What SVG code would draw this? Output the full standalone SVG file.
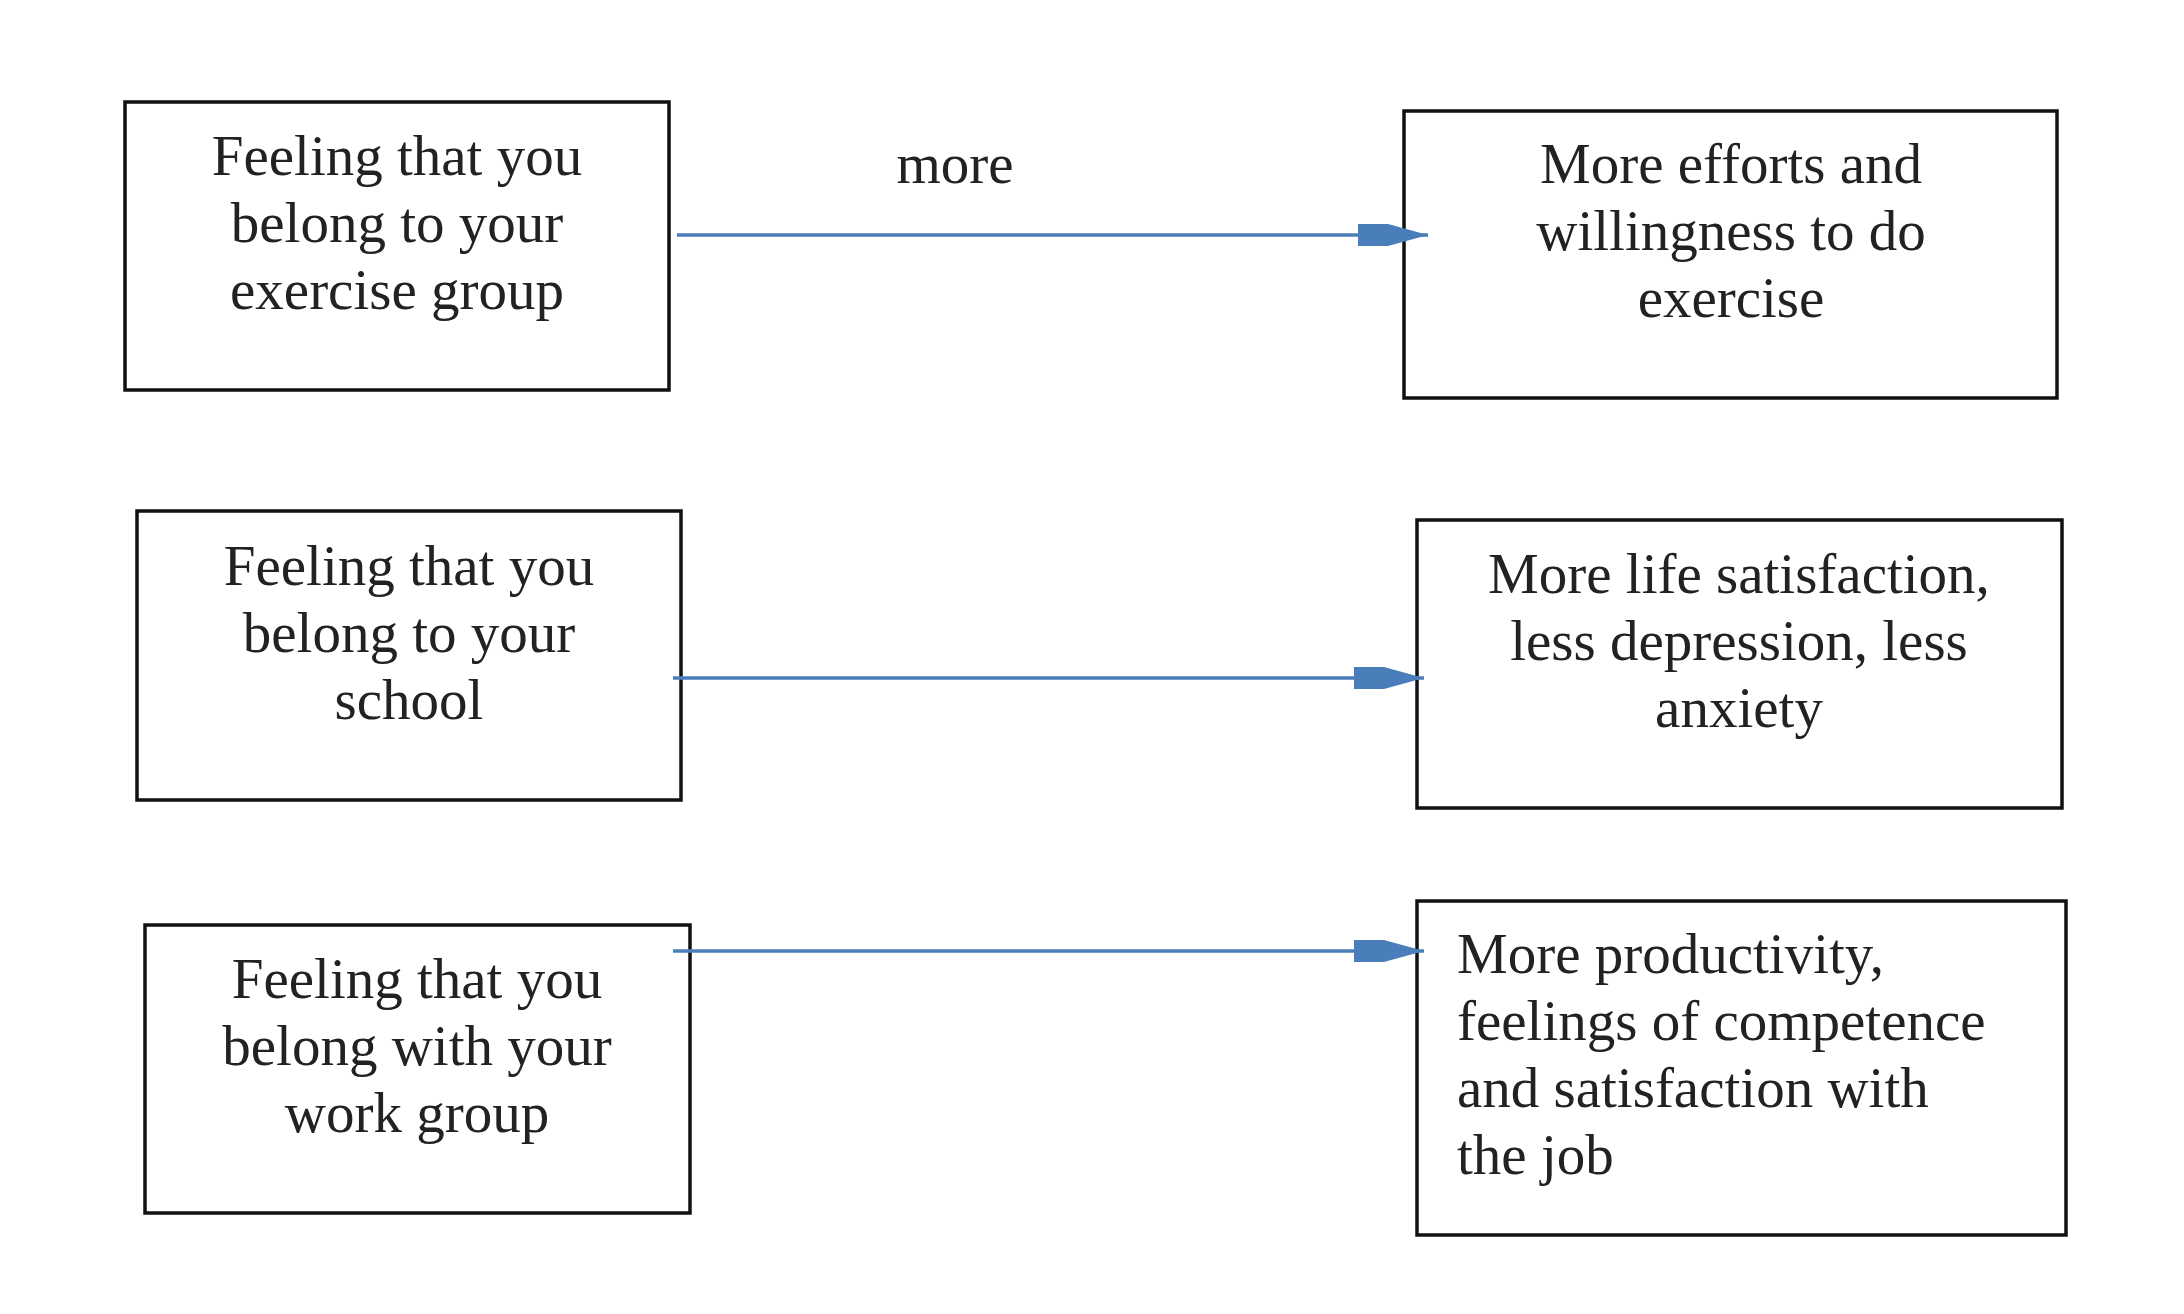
<svg xmlns="http://www.w3.org/2000/svg" width="2184" height="1314" viewBox="0 0 2184 1314">
<defs>
<style>
.box{fill:#ffffff;stroke:#111111;stroke-width:3.5}
.t{font-family:"Liberation Serif","Times New Roman",serif;font-size:57px;fill:#222222}
.c{text-anchor:middle}
.conn{stroke:#4A7EBB;stroke-width:3.5;fill:none}
</style>
<marker id="ah" markerUnits="userSpaceOnUse" markerWidth="72" markerHeight="24" refX="70" refY="12" orient="auto" viewBox="0 0 72 24">
<path d="M0,1 L30,1 L70,12 L30,23 L0,23 Z" fill="#4A7EBB"/>
</marker>
</defs>
<rect width="2184" height="1314" fill="#ffffff"/>
<g id="node-exercise-group">
<rect class="box" x="125" y="102" width="544" height="288"/>
<text class="t c" x="397" y="175">Feeling that you</text>
<text class="t c" x="397" y="242">belong to your</text>
<text class="t c" x="397" y="309">exercise group</text>
</g>
<g id="node-efforts">
<rect class="box" x="1404" y="111" width="653" height="287"/>
<text class="t c" x="1731" y="183">More efforts and</text>
<text class="t c" x="1731" y="250">willingness to do</text>
<text class="t c" x="1731" y="317">exercise</text>
</g>
<g id="node-school">
<rect class="box" x="137" y="511" width="544" height="289"/>
<text class="t c" x="409" y="585">Feeling that you</text>
<text class="t c" x="409" y="652">belong to your</text>
<text class="t c" x="409" y="719">school</text>
</g>
<g id="node-life-satisfaction">
<rect class="box" x="1417" y="520" width="645" height="288"/>
<text class="t c" x="1739" y="593">More life satisfaction,</text>
<text class="t c" x="1739" y="660">less depression, less</text>
<text class="t c" x="1739" y="727">anxiety</text>
</g>
<g id="node-work-group">
<rect class="box" x="145" y="925" width="545" height="288"/>
<text class="t c" x="417" y="998">Feeling that you</text>
<text class="t c" x="417" y="1065">belong with your</text>
<text class="t c" x="417" y="1132">work group</text>
</g>
<g id="node-productivity">
<rect class="box" x="1417" y="901" width="649" height="334"/>
<text class="t" x="1457" y="973">More productivity,</text>
<text class="t" x="1457" y="1040">feelings of competence</text>
<text class="t" x="1457" y="1107">and satisfaction with</text>
<text class="t" x="1457" y="1174">the job</text>
</g>
<g id="connectors">
<line class="conn" x1="677" y1="235" x2="1428" y2="235" marker-end="url(#ah)"/>
<line class="conn" x1="673" y1="678" x2="1424" y2="678" marker-end="url(#ah)"/>
<line class="conn" x1="673" y1="951" x2="1424" y2="951" marker-end="url(#ah)"/>
<text class="t c" x="955" y="183">more</text>
</g>
</svg>
